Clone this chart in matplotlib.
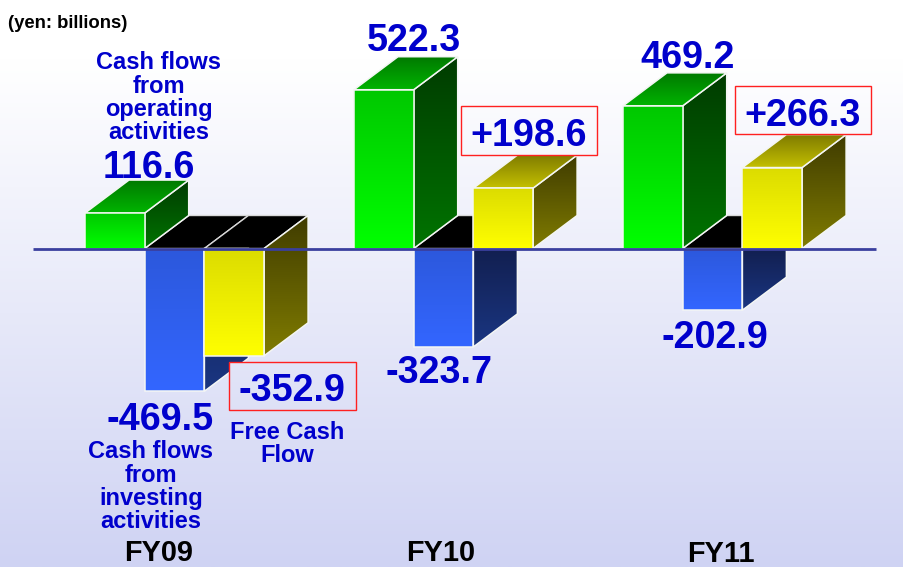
import numpy as np
import matplotlib
matplotlib.use("Agg")
import matplotlib.pyplot as plt
from matplotlib.patches import Polygon
from matplotlib.colors import to_rgb

years = ["FY09", "FY10", "FY11"]
operating = [116.6, 522.3, 469.2]
investing = [-469.5, -323.7, -202.9]
free_cf = [-352.9, 198.6, 266.3]

W, H = 904, 567
PX_PER_UNIT = 0.304
BASE_PX = 248.5
GROUP_PX = 269
LEFT_PX = 85
BAR_PX = 59.7
DX_PX, DY_PX = 44, 33

plt.rcParams['font.family'] = ['Liberation Sans', 'DejaVu Sans']
fig = plt.figure(figsize=(W / 100, H / 100), dpi=100)
ax = fig.add_axes([0, 0, 1, 1])
xlim = (-LEFT_PX / GROUP_PX, (W - LEFT_PX) / GROUP_PX)
ylim = ((BASE_PX - H) / PX_PER_UNIT, BASE_PX / PX_PER_UNIT)
ax.axis('off')

bw = BAR_PX / GROUP_PX
dx = DX_PX / GROUP_PX
dy = DY_PX / PX_PER_UNIT


def grad(c_top, c_bot, n=128):
    t = np.linspace(0, 1, n)[:, None, None]
    a, b = np.array(to_rgb(c_top))[None, None, :], np.array(to_rgb(c_bot))[None, None, :]
    return a * (1 - t) + b * t


def face(pts, c_top, c_bot, edge='#f4f6f4', lw=1.1, z=2):
    pts = np.array(pts, dtype=float)
    x0, x1, y0, y1 = pts[:, 0].min(), pts[:, 0].max(), pts[:, 1].min(), pts[:, 1].max()
    im = ax.imshow(grad(c_top, c_bot), extent=(x0, x1, y0, y1), origin='upper',
                   aspect='auto', zorder=z, interpolation='bilinear')
    poly = Polygon(pts, closed=True, transform=ax.transData, fc='none', ec='none')
    ax.add_patch(poly)
    im.set_clip_path(poly)
    if edge:
        ax.add_patch(Polygon(pts, closed=True, fc='none', ec=edge, lw=lw, zorder=z, joinstyle='miter'))


def background(z, clip=None):
    t = np.clip((np.linspace(0, H, 256) - 60) / (H - 60), 0, 1)[:, None, None]
    a, b = np.array(to_rgb('#ffffff'))[None, None, :], np.array(to_rgb('#cfd3f3'))[None, None, :]
    im = ax.imshow(a * (1 - t) + b * t, extent=(xlim[0], xlim[1], ylim[0], ylim[1]),
                   origin='upper', aspect='auto', zorder=z)
    if clip is not None:
        p = Polygon(clip, closed=True, fc='none', ec='none')
        ax.add_patch(p)
        im.set_clip_path(p)


background(z=0)

GREEN = dict(front=('#00c800', '#00ff00'), top=('#007a00', '#00b400'), side=('#003c00', '#007400'))
YELLOW = dict(front=('#dcdc00', '#ffff00'), top=('#807c00', '#c4c000'), side=('#403c00', '#807c00'))
BLUE = dict(front=('#2c58dc', '#3366ff'), side=('#121f50', '#1a3682'))


def pos_bar(x, v, pal, z):
    face([(x + bw, 0), (x + bw + dx, dy), (x + bw + dx, v + dy), (x + bw, v)], *pal['side'], z=z)
    face([(x, v), (x + bw, v), (x + bw + dx, v + dy), (x + dx, v + dy)], *pal['top'], z=z)
    face([(x, 0), (x + bw, 0), (x + bw, v), (x, v)], *pal['front'], z=z + 0.1)


def neg_bar(x, v, pal, z):
    face([(x + bw, 0), (x + bw + dx, 0 if pal is BLUE else dy), (x + bw + dx, v + dy), (x + bw, v)],
         *pal['side'], z=z)
    face([(x, 0), (x + bw, 0), (x + bw, v), (x, v)], *pal['front'], z=z + 0.1)


for i in range(len(years)):
    x0 = float(i)
    x1 = x0 + bw
    x2 = x0 + 2 * bw
    floor_bars = 2 if free_cf[i] < 0 else 1
    for k in range(floor_bars):
        a = x1 + k * bw
        face([(a, 0), (a + bw, 0), (a + bw + dx, dy), (a + dx, dy)], '#000000', '#000000',
             edge='#d8d8d8', lw=1.0, z=1)
    pos_bar(x0, operating[i], GREEN, 3)
    neg_bar(x1, investing[i], BLUE, 2)
    if free_cf[i] < 0:
        neg_bar(x2, free_cf[i], YELLOW, 3)
    else:
        pos_bar(x2, free_cf[i], YELLOW, 3)

# baseline
ax.plot([(33 - LEFT_PX) / GROUP_PX, (876 - LEFT_PX) / GROUP_PX], [0, 0], color='#3a3f9e', lw=2.0,
        zorder=6, solid_capstyle='butt')
ax.set_xlim(*xlim)
ax.set_ylim(*ylim)


def X(px):
    return (px - LEFT_PX) / GROUP_PX


def Y(py):
    return (BASE_PX - py) / PX_PER_UNIT


def label(px, py, s, size, color='#0000cc', ha='center', z=9):
    ax.text(X(px), Y(py), s, fontsize=size, fontweight='bold', color=color, ha=ha, va='center_baseline',
            zorder=z)


def box(x0, x1, y0, y1):
    pts = [(X(x0), Y(y0)), (X(x1), Y(y0)), (X(x1), Y(y1)), (X(x0), Y(y1))]
    background(z=7, clip=pts)
    ax.add_patch(Polygon(pts, closed=True, fc='none', ec='#ff2020', lw=1.0, zorder=8))


box(461, 597, 106, 155)
box(735, 871, 86, 134)
box(229, 356, 362, 410)
ax.set_xlim(*xlim)
ax.set_ylim(*ylim)

VAL = 27.2
val_pos = [(149, 164), (413.5, 37), (687.5, 54)]
for (px, py), v in zip(val_pos, operating):
    label(px, py, f"{v:.1f}", VAL)
val_pos = [(160, 416), (439.5, 369), (715, 334)]
for (px, py), v in zip(val_pos, investing):
    label(px, py, f"{v:.1f}", VAL)
val_pos = [(292, 387), (529, 132), (803, 112)]
for (px, py), v in zip(val_pos, free_cf):
    label(px, py, f"{v:+.1f}", VAL)

for py, s in zip([60, 83.5, 106.5, 129.5], ["Cash flows", "from", "operating", "activities"]):
    label(159, py, s, 17)
for py, s in zip([449.5, 472.5, 495.5, 518.5], ["Cash flows", "from", "investing", "activities"]):
    label(151, py, s, 17)
for py, s in zip([430, 453], ["Free Cash", "Flow"]):
    label(287, py, s, 17)

for (px, py), s in zip([(159, 550), (441, 550), (721, 551.5)], years):
    label(px, py, s, 20.8, color='#000000')
label(8, 21, "(yen: billions)", 13.3, color='#000000', ha='left')

fig.savefig("out.png", dpi=100)
